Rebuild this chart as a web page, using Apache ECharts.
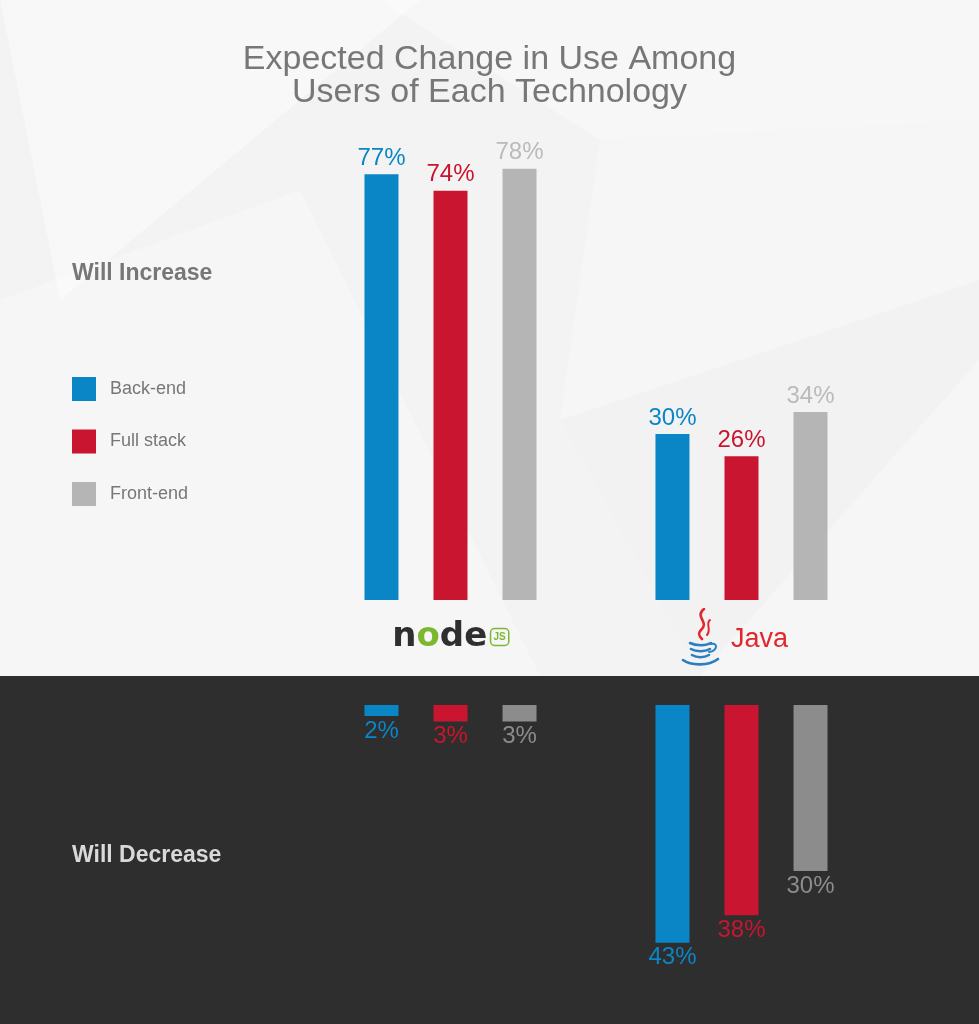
<!DOCTYPE html>
<html>
<head>
<meta charset="utf-8">
<script src="https://cdn.jsdelivr.net/npm/echarts@6/dist/echarts.min.js"></script>
<style>html,body{margin:0;padding:0;background:#f4f4f4;}#c{width:979px;height:1024px;}</style>
</head>
<body>
<div id="c"></div>
<script>
const categories = ['Node.js', 'Java'];
const seriesNames = ['Back-end', 'Full stack', 'Front-end'];
const increaseBack = [77, 30];
const increaseFull = [74, 26];
const increaseFront = [78, 34];
const decreaseBack = [2, 43];
const decreaseFull = [3, 38];
const decreaseFront = [3, 30];

const BLUE = '#0a86c6', RED = '#c9152f', GRAY_TOP = '#b5b5b5', GRAY_TOP_LBL = '#bababa', GRAY_BOT = '#8c8c8c';
const FONT = '"Liberation Sans", Arial, Helvetica, sans-serif';

const cupSvg = "<svg xmlns='http://www.w3.org/2000/svg' width='40' height='58' viewBox='0 0 40 58'>" +
  "<path d='M23 1 C13 9 29 14 20 22 C16 26 19 29 21 31' fill='none' stroke='#e2262b' stroke-width='2.6' stroke-linecap='round'/>" +
  "<path d='M29 12 C24 16 31 21 26 27' fill='none' stroke='#e2262b' stroke-width='2' stroke-linecap='round'/>" +
  "<path d='M9 35 C15 38 25 38 30 35' fill='none' stroke='#2a7fc1' stroke-width='2.6' stroke-linecap='round'/>" +
  "<path d='M10 41 C15 44 24 44 29 41' fill='none' stroke='#2a7fc1' stroke-width='2.6' stroke-linecap='round'/>" +
  "<path d='M11 47 C16 50 23 50 28 47' fill='none' stroke='#2a7fc1' stroke-width='2.6' stroke-linecap='round'/>" +
  "<path d='M2 52 C10 58 28 58 37 51' fill='none' stroke='#2a7fc1' stroke-width='2.6' stroke-linecap='round'/>" +
  "<path d='M30 36 C37 34 37 43 28 44' fill='none' stroke='#2a7fc1' stroke-width='2' stroke-linecap='round'/>" +
  "</svg>";
const cupUrl = 'data:image/svg+xml;charset=utf-8,' + encodeURIComponent(cupSvg);

const chart = echarts.init(document.getElementById('c'), null, {renderer: 'canvas'});

function barSeries(name, data, color, lblColor, idx, pos) {
  return {
    name: name, type: 'bar', data: data,
    xAxisIndex: idx, yAxisIndex: idx,
    barWidth: 34, barGap: '103%',
    itemStyle: {color: color},
    label: {
      show: true, position: pos, distance: pos === 'top' ? 4 : 3,
      formatter: '{c}%', color: lblColor, fontSize: 24, fontFamily: FONT
    },
    emphasis: {disabled: true}
  };
}

const option = {
  backgroundColor: '#f4f4f4',
  animation: false,
  title: {
    text: 'Expected Change in Use Among\nUsers of Each Technology',
    left: 'center', top: 38,
    textStyle: {fontSize: 34, fontWeight: 'normal', color: '#777777', fontFamily: FONT, lineHeight: 33}
  },
  legend: {
    orient: 'vertical', left: 72, top: 377,
    itemWidth: 24, itemHeight: 24, itemGap: 28.5,
    icon: 'rect', padding: 0,
    data: seriesNames,
    textStyle: {fontSize: 18, color: '#777777', fontFamily: FONT, padding: [0, 0, 0, 9]},
    selectedMode: false
  },
  graphic: [
    {type: 'rect', shape: {x: 0, y: 0, width: 979, height: 676}, style: {fill: '#f3f3f3'}, z: -10, silent: true},
    {type: 'polygon', shape: {points: [[0, 0], [420, 0], [60, 300]]}, style: {fill: 'rgba(255,255,255,0.4)'}, z: -9, silent: true},
    {type: 'polygon', shape: {points: [[380, 0], [979, 0], [979, 120], [600, 140]]}, style: {fill: 'rgba(255,255,255,0.35)'}, z: -9, silent: true},
    {type: 'polygon', shape: {points: [[0, 300], [300, 190], [540, 676], [0, 676]]}, style: {fill: 'rgba(255,255,255,0.25)'}, z: -9, silent: true},
    {type: 'polygon', shape: {points: [[600, 140], [979, 120], [979, 676], [700, 676], [560, 420]]}, style: {fill: 'rgba(255,255,255,0.3)'}, z: -9, silent: true},
    {type: 'polygon', shape: {points: [[560, 420], [979, 280], [979, 360], [700, 676]]}, style: {fill: 'rgba(238,238,238,0.4)'}, z: -9, silent: true},
    {type: 'rect', shape: {x: 0, y: 676, width: 979, height: 348}, style: {fill: '#2e2e2e'}, z: -10, silent: true},
    {type: 'text', left: 72, top: 262, style: {text: 'Will Increase', fontSize: 23, fontWeight: 'bold', fill: '#777777', fontFamily: FONT}, z: 5},
    {type: 'text', left: 72, top: 844, style: {text: 'Will Decrease', fontSize: 23, fontWeight: 'bold', fill: '#d9d9d9', fontFamily: FONT}, z: 5}
  ],
  grid: [
    {left: 305, width: 582, top: 47, height: 553},
    {left: 305, width: 582, top: 705, height: 276.5}
  ],
  xAxis: [
    {
      type: 'category', gridIndex: 0, data: categories,
      axisLine: {show: false}, axisTick: {show: false}, splitLine: {show: false},
      axisLabel: {
        margin: 37, verticalAlign: 'middle', interval: 0,
        formatter: function (v) {
          if (v === 'Node.js') return '{n|n}{o|o}{n|de} {js|JS}';
          return '{cup| }{java|Java}';
        },
        rich: {
          n: {fontSize: 34, fontWeight: 'bold', color: '#2f2f2f', fontFamily: '"DejaVu Sans", sans-serif'},
          o: {fontSize: 34, fontWeight: 'bold', color: '#7cb82f', fontFamily: '"DejaVu Sans", sans-serif'},
          js: {fontSize: 10, fontWeight: 'bold', color: '#7cb82f', borderColor: '#7cb82f', borderWidth: 1.5, borderRadius: 4, padding: [4, 3, 3, 3], fontFamily: FONT},
          cup: {width: 40, height: 58, backgroundColor: {image: cupUrl}},
          java: {fontSize: 27, color: '#e2262b', fontFamily: FONT, padding: [6, 14, 0, 10]}
        }
      }
    },
    {
      type: 'category', gridIndex: 1, data: categories, position: 'top',
      axisLine: {show: false}, axisTick: {show: false}, axisLabel: {show: false}, splitLine: {show: false}
    }
  ],
  yAxis: [
    {type: 'value', gridIndex: 0, min: 0, max: 100, show: false, splitLine: {show: false}},
    {type: 'value', gridIndex: 1, min: 0, max: 50, inverse: true, show: false, splitLine: {show: false}}
  ],
  series: [
    barSeries('Back-end', increaseBack, BLUE, BLUE, 0, 'top'),
    barSeries('Full stack', increaseFull, RED, RED, 0, 'top'),
    barSeries('Front-end', increaseFront, GRAY_TOP, GRAY_TOP_LBL, 0, 'top'),
    barSeries('Back-end', decreaseBack, BLUE, BLUE, 1, 'bottom'),
    barSeries('Full stack', decreaseFull, RED, RED, 1, 'bottom'),
    barSeries('Front-end', decreaseFront, GRAY_BOT, GRAY_BOT, 1, 'bottom')
  ]
};
chart.setOption(option);
</script>
</body>
</html>
